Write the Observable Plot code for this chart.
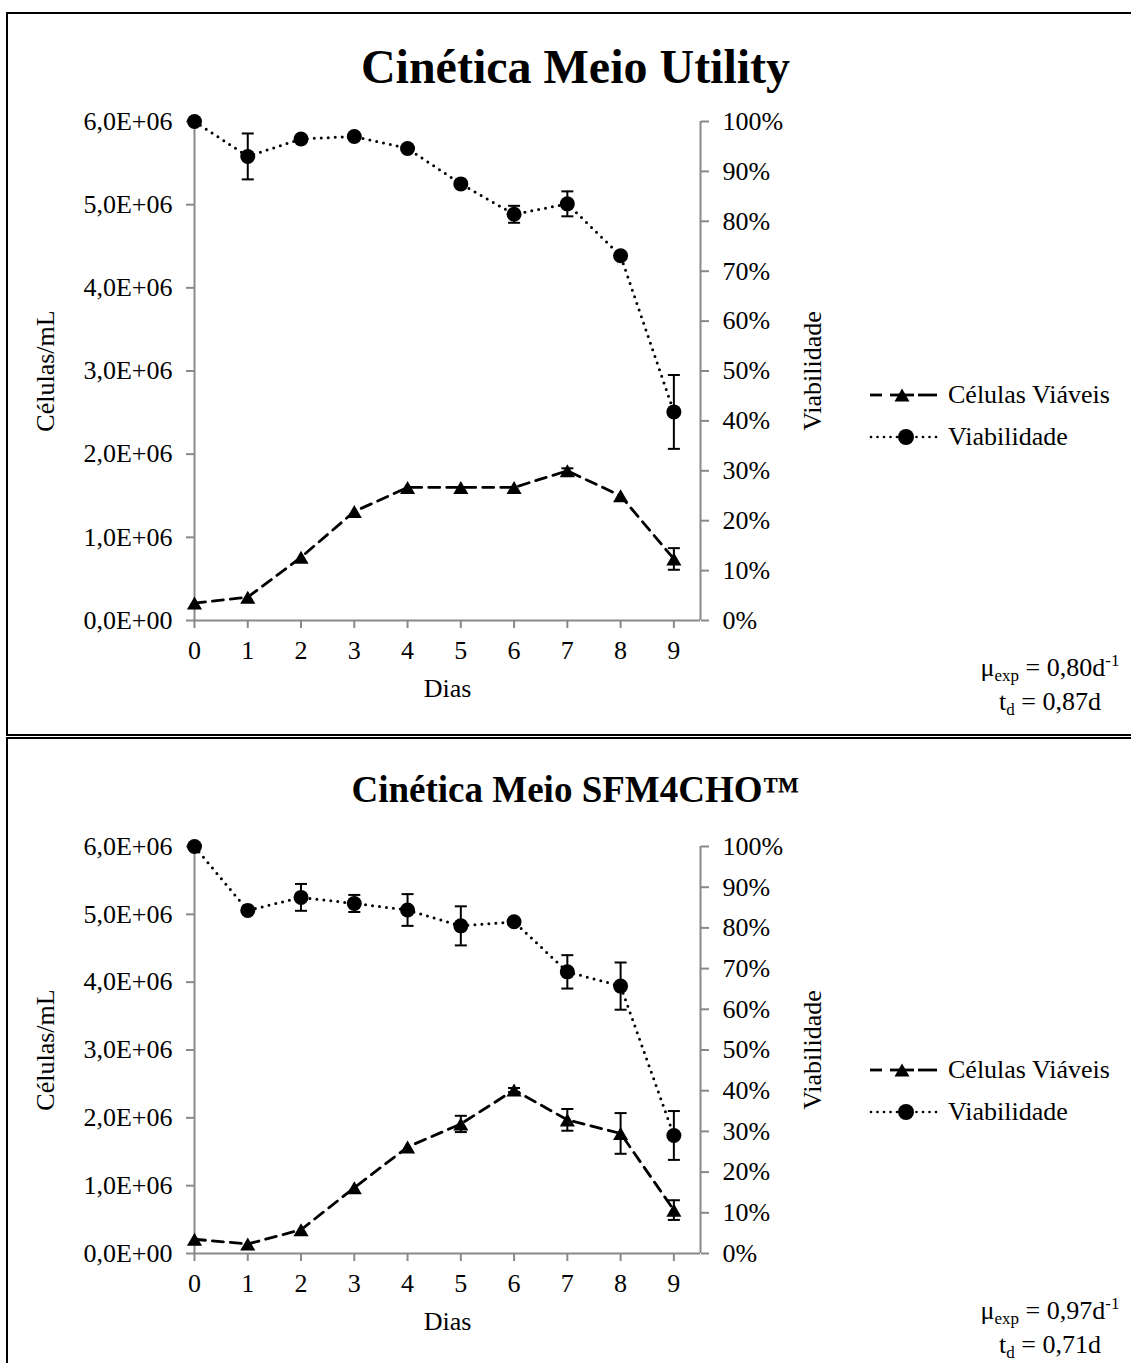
<!DOCTYPE html>
<html>
<head>
<meta charset="utf-8">
<script src="https://cdn.jsdelivr.net/npm/d3@7"></script>
<script src="https://cdn.jsdelivr.net/npm/@observablehq/plot@0.6"></script>
<style>
  html, body { margin: 0; padding: 0; background: #fff; overflow: hidden; }
  body { font-family: "Liberation Serif", "Times New Roman", serif; color: #000; }
  #page { position: relative; width: 1131px; height: 1363px; overflow: hidden; }
  .box { position: absolute; left: 6px; width: 1200px; border: 2px solid #000; box-sizing: border-box; }
  .chart { position: absolute; left: 0; }
  .legend { position: absolute; left: 862px; font-size: 26px; }
  .legend .row { position: absolute; left: 0; height: 30px; white-space: nowrap; }
  .legend svg { position: absolute; left: 0; top: 0; }
  .legend span { position: absolute; left: 86px; top: 0; line-height: 30px; }
  .note { position: absolute; left: 950px; width: 200px; text-align: center; font-size: 26px; line-height: 26px; white-space: nowrap; }
  .note sub, .note sup { font-size: 17px; line-height: 0; }
  .note sub { vertical-align: -5px; }
  .note sup { vertical-align: 10px; }
</style>
</head>
<body>
<div id="page"></div>
<script>
// ---------- data ----------
const days = [0, 1, 2, 3, 4, 5, 6, 7, 8, 9];
const xTicks = [0, 1, 2, 3, 4, 5, 6, 7, 8, 9];
const leftTickValues = [0, 1e6, 2e6, 3e6, 4e6, 5e6, 6e6];
const leftTickLabels = ["0,0E+00", "1,0E+06", "2,0E+06", "3,0E+06", "4,0E+06", "5,0E+06", "6,0E+06"];
const rightTickPct = [0, 10, 20, 30, 40, 50, 60, 70, 80, 90, 100];
const rightTickLabels = ["0%", "10%", "20%", "30%", "40%", "50%", "60%", "70%", "80%", "90%", "100%"];
const seriesNames = ["Células Viáveis", "Viabilidade"];
const titles = ["Cinética Meio Utility", "Cinética Meio SFM4CHO™"];

// Meio Utility
const utilityCells   = [0.21e6, 0.28e6, 0.76e6, 1.31e6, 1.60e6, 1.60e6, 1.60e6, 1.80e6, 1.50e6, 0.74e6];
const utilityCellsSd = [0, 0, 0, 0, 0, 0, 0, 0.03e6, 0, 0.13e6];
const utilityViab    = [100, 93.0, 96.5, 97.0, 94.6, 87.5, 81.4, 83.5, 73.1, 41.8];
const utilityViabSd  = [0, 4.6, 0, 0, 0, 0, 1.7, 2.5, 0, 7.4];
const utilityNote    = { mu: "0,80", td: "0,87" };

// Meio SFM4CHO
const sfmCells   = [0.21e6, 0.14e6, 0.35e6, 0.97e6, 1.57e6, 1.91e6, 2.41e6, 1.97e6, 1.77e6, 0.64e6];
const sfmCellsSd = [0, 0, 0, 0, 0, 0.12e6, 0.03e6, 0.16e6, 0.30e6, 0.145e6];
const sfmViab    = [100, 84.3, 87.5, 86.0, 84.4, 80.5, 81.5, 69.2, 65.7, 29.0];
const sfmViabSd  = [0, 0, 3.3, 2.1, 3.9, 4.8, 0, 4.1, 5.8, 6.0];
const sfmNote    = { mu: "0,97", td: "0,71" };

// ---------- helpers ----------
const K = 6e6 / 100;            // viability % -> left-axis units (100% == 6,0E+06)
const AX = "#898989";
const leftLabelOf = new Map(leftTickValues.map((v, i) => [v, leftTickLabels[i]]));
const rightLabelOf = new Map(rightTickPct.map((p, i) => [p * K, rightTickLabels[i]]));

const capSymbol = { draw(ctx, size) { const w = Math.sqrt(size / Math.PI); ctx.moveTo(-w, 0); ctx.lineTo(w, 0); } };
const triSymbol = { draw(ctx, size) {
  const r = Math.sqrt(size / Math.PI), w = r * 1.35, h = r * 1.17;
  ctx.moveTo(0, -h); ctx.lineTo(w, h); ctx.lineTo(-w, h); ctx.closePath();
} };

function panel(cfg) {
  const C = days.map((d, i) => ({ day: d, v: cfg.cells[i], lo: cfg.cells[i] - cfg.cellsSd[i], hi: cfg.cells[i] + cfg.cellsSd[i], sd: cfg.cellsSd[i] }));
  const V = days.map((d, i) => ({ day: d, v: cfg.viab[i] * K, lo: (cfg.viab[i] - cfg.viabSd[i]) * K, hi: (cfg.viab[i] + cfg.viabSd[i]) * K, sd: cfg.viabSd[i] }));
  const CE = C.filter(d => d.sd > 0), VE = V.filter(d => d.sd > 0);
  const err = (data) => [
    Plot.ruleX(data, { x: "day", y1: "lo", y2: "hi", stroke: "#000", strokeWidth: 2 }),
    Plot.dot(data, { x: "day", y: "lo", symbol: capSymbol, r: 6, stroke: "#000", strokeWidth: 2, fill: "none" }),
    Plot.dot(data, { x: "day", y: "hi", symbol: capSymbol, r: 6, stroke: "#000", strokeWidth: 2, fill: "none" })
  ];
  const label = (t, o) => Plot.text([t], { text: d => d, textAnchor: "middle", lineAnchor: "middle", fill: "#000", fontSize: 26, ...o });
  return Plot.plot({
    width: 1131,
    height: cfg.height,
    marginLeft: 194,
    marginRight: 431,
    marginTop: cfg.marginTop,
    marginBottom: cfg.marginBottom,
    style: { background: "transparent", fontFamily: "'Liberation Serif', 'Times New Roman', serif", fontSize: "26px", color: "#000", overflow: "visible" },
    x: { domain: [0, 9.5] },
    y: { domain: [0, 6e6] },
    marks: [
      Plot.ruleX([0, 9.5], { stroke: AX, strokeWidth: 2 }),
      Plot.ruleY([0], { stroke: AX, strokeWidth: 2 }),
      Plot.axisX(xTicks, { anchor: "bottom", tickSize: 8, tickPadding: 12, stroke: AX, strokeWidth: 2, fill: "#000", fontSize: 26, tickFormat: d => String(d), label: null }),
      Plot.axisY(leftTickValues, { anchor: "left", tickSize: 8, tickPadding: 14, stroke: AX, strokeWidth: 2, fill: "#000", fontSize: 26, tickFormat: d => leftLabelOf.get(d), label: null }),
      Plot.axisY(rightTickPct.map(p => p * K), { anchor: "right", tickSize: 8, tickPadding: 14, stroke: AX, strokeWidth: 2, fill: "#000", fontSize: 26, tickFormat: d => rightLabelOf.get(d), label: null }),
      Plot.line(C, { x: "day", y: "v", stroke: "#000", strokeWidth: 2.8, strokeDasharray: "11 7" }),
      Plot.line(V, { x: "day", y: "v", stroke: "#000", strokeWidth: 3, strokeDasharray: "0 7", strokeLinecap: "round" }),
      ...err(CE),
      ...err(VE),
      Plot.dot(C, { x: "day", y: "v", symbol: triSymbol, r: 5.6, fill: "#000", stroke: "none" }),
      Plot.dot(V, { x: "day", y: "v", r: 7.5, fill: "#000", stroke: "none" }),
      label(cfg.title, { frameAnchor: "top", dx: 128, dy: cfg.titleDy, fontSize: cfg.titleSize, fontWeight: "bold" }),
      label("Células/mL", { frameAnchor: "left", dx: -149, rotate: -90 }),
      label("Viabilidade", { frameAnchor: "right", dx: 112, rotate: -90 }),
      label("Dias", { frameAnchor: "bottom", dy: 68 })
    ]
  });
}

function legend(top) {
  const L = d3.create("div").attr("class", "legend").style("top", top + "px");
  // row 1: dashed + triangle
  const r1 = L.append("div").attr("class", "row").style("top", "0px");
  const s1 = r1.append("svg").attr("width", 80).attr("height", 30);
  s1.append("line").attr("x1", 8).attr("x2", 20).attr("y1", 15).attr("y2", 15).attr("stroke", "#000").attr("stroke-width", 2.8);
  s1.append("line").attr("x1", 56).attr("x2", 75).attr("y1", 15).attr("y2", 15).attr("stroke", "#000").attr("stroke-width", 2.8);
  s1.append("line").attr("x1", 28).attr("x2", 52).attr("y1", 15).attr("y2", 15).attr("stroke", "#000").attr("stroke-width", 2.8);
  s1.append("path").attr("d", "M40,8.5L47.5,21.5L32.5,21.5Z").attr("fill", "#000");
  r1.append("span").text(seriesNames[0]);
  // row 2: dotted + circle
  const r2 = L.append("div").attr("class", "row").style("top", "42px");
  const s2 = r2.append("svg").attr("width", 80).attr("height", 30);
  s2.append("line").attr("x1", 9).attr("x2", 76).attr("y1", 15).attr("y2", 15)
    .attr("stroke", "#000").attr("stroke-width", 2.7).attr("stroke-dasharray", "0 6.5").attr("stroke-linecap", "round");
  s2.append("circle").attr("cx", 44).attr("cy", 15).attr("r", 8).attr("fill", "#000");
  r2.append("span").text(seriesNames[1]);
  return L.node();
}

function note(top, n) {
  const wrap = document.createDocumentFragment();
  const a = document.createElement("div");
  a.className = "note"; a.style.top = top + "px";
  a.innerHTML = "μ<sub>exp</sub> = " + n.mu + "d<sup>-1</sup>";
  const b = document.createElement("div");
  b.className = "note"; b.style.top = (top + 34) + "px";
  b.innerHTML = "t<sub>d</sub> = " + n.td + "d";
  wrap.appendChild(a); wrap.appendChild(b);
  return wrap;
}

const page = document.getElementById("page");

const box1 = document.createElement("div"); box1.className = "box";
box1.style.top = "12px"; box1.style.height = "724px"; page.appendChild(box1);
const box2 = document.createElement("div"); box2.className = "box";
box2.style.top = "737px"; box2.style.height = "700px"; page.appendChild(box2);

const c1 = panel({ cells: utilityCells, cellsSd: utilityCellsSd, viab: utilityViab, viabSd: utilityViabSd,
  title: titles[0], height: 730, marginTop: 121, marginBottom: 110, titleDy: -54, titleSize: 48 });
c1.classList.add("chart"); c1.style.top = "0px"; page.appendChild(c1);

const c2 = panel({ cells: sfmCells, cellsSd: sfmCellsSd, viab: sfmViab, viabSd: sfmViabSd,
  title: titles[1], height: 623, marginTop: 106, marginBottom: 110, titleDy: -56, titleSize: 37 });
c2.classList.add("chart"); c2.style.top = "740px"; page.appendChild(c2);

page.appendChild(legend(380));
page.appendChild(legend(1055));
page.appendChild(note(655, utilityNote));
page.appendChild(note(1298, sfmNote));
</script>
</body>
</html>
